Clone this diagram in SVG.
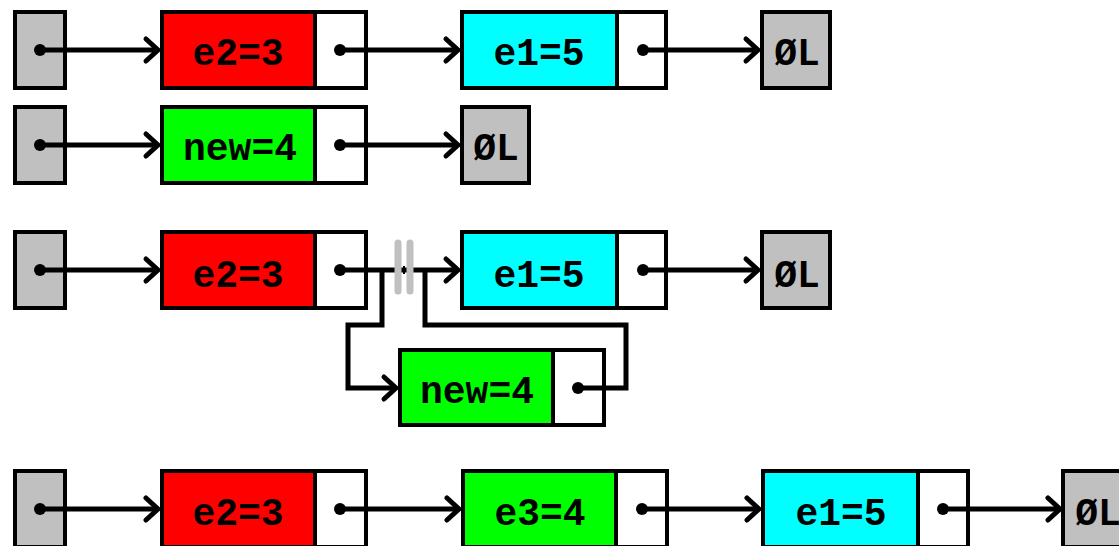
<svg xmlns="http://www.w3.org/2000/svg" width="1119" height="546" viewBox="0 0 1119 546">
  <style>
    .box { stroke: #000; stroke-width: 4; }
    .head { fill: #c0c0c0; }
    .nil { fill: #c0c0c0; }
    .ptr { fill: #fff; }
    .red { fill: #ff0000; }
    .green { fill: #00ff00; }
    .cyan { fill: #00ffff; }
    .lbl { font-family: "Liberation Mono", "DejaVu Sans Mono", monospace; font-weight: bold; font-size: 38px; fill: #000; text-anchor: middle; }
    .link { fill: none; stroke: #000; stroke-width: 5; stroke-linejoin: miter; }
    .dot { fill: #000; }
    .cut { stroke: #c0c0c0; stroke-width: 7; stroke-linecap: round; }
  </style>
  <defs>
    <marker id="arrow" markerUnits="userSpaceOnUse" markerWidth="24" markerHeight="30" viewBox="-16 -15 20 30" refX="0" refY="0" orient="auto">
      <path d="M -12 -11 L 0 0 L -12 11" fill="none" stroke="#000" stroke-width="5" stroke-linecap="round"/>
    </marker>
  </defs>

  <!-- Row 1: head -> e2=3 -> e1=5 -> null -->
  <g id="r1-head"><rect class="box head" x="15" y="12" width="50" height="76"/></g>
  <g id="r1-e2">
    <rect class="box red" x="162" y="12" width="153" height="76"/>
    <rect class="box ptr" x="315" y="12" width="51" height="76"/>
    <text class="lbl" x="238" y="65">e2=3</text>
  </g>
  <g id="r1-e1">
    <rect class="box cyan" x="462" y="12" width="155" height="76"/>
    <rect class="box ptr" x="617" y="12" width="49" height="76"/>
    <text class="lbl" x="539" y="65">e1=5</text>
  </g>
  <g id="r1-nil">
    <rect class="box nil" x="762" y="12" width="68" height="76"/>
    <text class="lbl" x="797" y="65">ØL</text>
  </g>

  <!-- Row 2: head -> new=4 -> null -->
  <g id="r2-head"><rect class="box head" x="15" y="107" width="50" height="76"/></g>
  <g id="r2-new">
    <rect class="box green" x="162" y="107" width="153" height="76"/>
    <rect class="box ptr" x="315" y="107" width="51" height="76"/>
    <text class="lbl" x="240" y="160">new=4</text>
  </g>
  <g id="r2-nil">
    <rect class="box nil" x="462" y="107" width="67" height="76"/>
    <text class="lbl" x="496" y="160">ØL</text>
  </g>

  <!-- Row 3: insertion of new=4 between e2=3 and e1=5 -->
  <g id="r3-head"><rect class="box head" x="15" y="232" width="50" height="76"/></g>
  <g id="r3-e2">
    <rect class="box red" x="162" y="232" width="153" height="76"/>
    <rect class="box ptr" x="315" y="232" width="51" height="76"/>
    <text class="lbl" x="238" y="287">e2=3</text>
  </g>
  <g id="r3-e1">
    <rect class="box cyan" x="462" y="232" width="155" height="76"/>
    <rect class="box ptr" x="617" y="232" width="49" height="76"/>
    <text class="lbl" x="539" y="287">e1=5</text>
  </g>
  <g id="r3-nil">
    <rect class="box nil" x="762" y="232" width="68" height="76"/>
    <text class="lbl" x="797" y="287">ØL</text>
  </g>
  <g id="r3-new">
    <rect class="box green" x="400" y="350" width="153" height="75"/>
    <rect class="box ptr" x="553" y="350" width="51" height="75"/>
    <text class="lbl" x="477" y="403">new=4</text>
  </g>

  <!-- Row 4: head -> e2=3 -> e3=4 -> e1=5 -> null -->
  <g id="r4-head"><rect class="box head" x="15" y="471" width="50" height="76"/></g>
  <g id="r4-e2">
    <rect class="box red" x="162" y="471" width="153" height="76"/>
    <rect class="box ptr" x="315" y="471" width="51" height="76"/>
    <text class="lbl" x="238" y="525">e2=3</text>
  </g>
  <g id="r4-e3">
    <rect class="box green" x="463" y="471" width="153" height="76"/>
    <rect class="box ptr" x="616" y="471" width="51" height="76"/>
    <text class="lbl" x="540" y="525">e3=4</text>
  </g>
  <g id="r4-e1">
    <rect class="box cyan" x="763" y="471" width="155" height="76"/>
    <rect class="box ptr" x="918" y="471" width="50" height="76"/>
    <text class="lbl" x="841" y="525">e1=5</text>
  </g>
  <g id="r4-nil">
    <rect class="box nil" x="1063" y="471" width="68" height="76"/>
    <text class="lbl" x="1098" y="525">ØL</text>
  </g>

  <!-- Pointer links -->
  <g id="links">
    <!-- row 1 -->
    <circle class="dot" cx="40" cy="50" r="6"/>
    <path class="link" d="M 40 50 H 158" marker-end="url(#arrow)"/>
    <circle class="dot" cx="340" cy="50" r="6"/>
    <path class="link" d="M 340 50 H 458" marker-end="url(#arrow)"/>
    <circle class="dot" cx="643" cy="50" r="6"/>
    <path class="link" d="M 643 50 H 758" marker-end="url(#arrow)"/>
    <!-- row 2 -->
    <circle class="dot" cx="40" cy="145" r="6"/>
    <path class="link" d="M 40 145 H 158" marker-end="url(#arrow)"/>
    <circle class="dot" cx="340" cy="145" r="6"/>
    <path class="link" d="M 340 145 H 458" marker-end="url(#arrow)"/>
    <!-- row 3 -->
    <circle class="dot" cx="40" cy="270" r="6"/>
    <path class="link" d="M 40 270 H 158" marker-end="url(#arrow)"/>
    <circle class="dot" cx="340" cy="270" r="6"/>
    <path class="link" d="M 340 270 H 458" marker-end="url(#arrow)"/>
    <path class="link" d="M 382 270 V 325 H 348 V 388 H 396" marker-end="url(#arrow)"/>
    <circle class="dot" cx="578" cy="388" r="6"/>
    <path class="link" d="M 578 388 H 626 V 325 H 425 V 270"/>
    <line class="cut" x1="398" y1="243" x2="398" y2="291"/>
    <line class="cut" x1="410" y1="243" x2="410" y2="291"/>
    <line x1="404" y1="266" x2="404" y2="274" stroke="#000" stroke-width="2"/>
    <circle class="dot" cx="643" cy="270" r="6"/>
    <path class="link" d="M 643 270 H 758" marker-end="url(#arrow)"/>
    <!-- row 4 -->
    <circle class="dot" cx="40" cy="509" r="6"/>
    <path class="link" d="M 40 509 H 158" marker-end="url(#arrow)"/>
    <circle class="dot" cx="340" cy="509" r="6"/>
    <path class="link" d="M 340 509 H 459" marker-end="url(#arrow)"/>
    <circle class="dot" cx="642" cy="509" r="6"/>
    <path class="link" d="M 642 509 H 759" marker-end="url(#arrow)"/>
    <circle class="dot" cx="943" cy="509" r="6"/>
    <path class="link" d="M 943 509 H 1060" marker-end="url(#arrow)"/>
  </g>
</svg>
